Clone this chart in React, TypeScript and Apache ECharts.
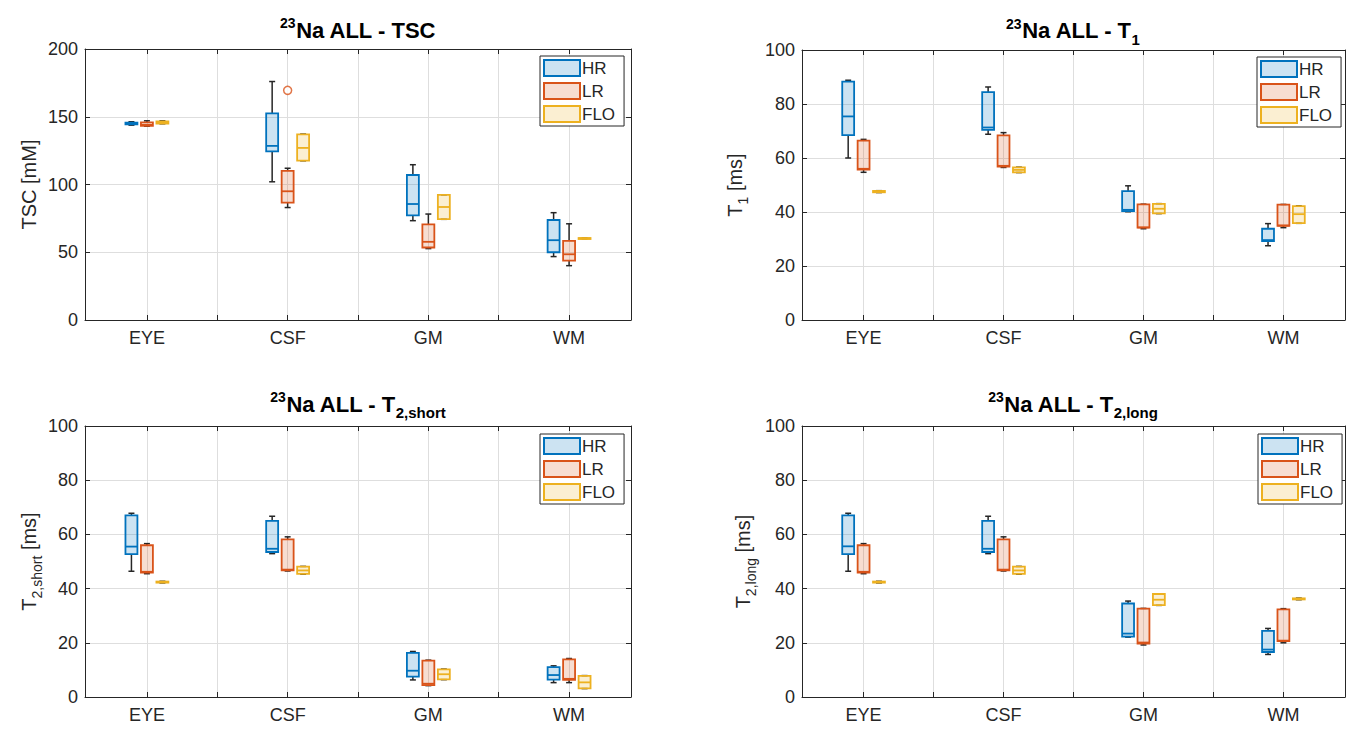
import React, { useEffect, useRef } from 'react';
import * as echarts from 'echarts';

// Regions on the x axis and acquisition groups
const categories = ['EYE', 'CSF', 'GM', 'WM'];
const groups = ['HR', 'LR', 'FLO'];

// Five-number summaries per region: [min, q1, median, q3, max]
const tscHR = [[143.8, 144.3, 144.6, 145.6, 146.3], [102, 124.5, 128.5, 152.5, 176], [73.3, 77.2, 85.6, 107, 114.6], [46.8, 50, 58.9, 73.8, 79.2]];
const tscLR = [[143, 143.3, 144, 145.8, 147], [83, 86.6, 95, 110, 112], [52.7, 53.5, 57.7, 70.5, 78.2], [40.1, 43.8, 48.5, 58.4, 71]];
const tscFLO = [[144.8, 145, 145.8, 146.6, 147], [117.5, 117.6, 127, 137, 137.2], [74.3, 74.4, 83.4, 92.3, 92.4], [60, 60.1, 60.3, 60.5, 60.6]];
const tscOutliersLR = [[2, 169.5]];

const t1HR = [[60, 68.5, 75.4, 88.3, 88.8], [68.8, 70.4, 71.3, 84.4, 86.3], [40.1, 40.3, 40.8, 47.7, 49.7], [27.5, 29.2, 29.6, 33.8, 35.7]];
const t1LR = [[54.7, 55.7, 56, 66.4, 66.9], [56.5, 56.8, 57.1, 68.4, 69.4], [33.8, 34.2, 34.3, 42.8, 42.9], [34.2, 34.9, 35, 42.7, 42.8]];
const t1FLO = [[47.2, 47.3, 47.6, 47.8, 47.9], [54.6, 54.7, 55.6, 56.5, 56.6], [39.4, 39.5, 41.2, 43, 43.1], [35.8, 35.9, 39.2, 42.2, 42.3]];

const t2sHR = [[46.4, 52.7, 55.5, 67, 67.8], [52.9, 53.5, 54.7, 65, 66.7], [6.3, 7.5, 9.7, 16.3, 16.8], [5.3, 6.4, 8.1, 11, 11.5]];
const t2sLR = [[45.5, 45.9, 46.2, 56, 56.6], [46.5, 46.7, 47, 58.2, 59.1], [4.2, 4.4, 4.9, 13.4, 13.6], [5.3, 6.3, 6.7, 13.9, 14.2]];
const t2sFLO = [[42.1, 42.2, 42.4, 42.6, 42.7], [45.3, 45.4, 46.7, 48.1, 48.2], [6.4, 6.5, 8.4, 10.2, 10.3], [3.1, 3.2, 5.4, 7.8, 7.9]];

const t2lHR = [[46.4, 52.7, 55.6, 67, 67.8], [52.9, 53.5, 54.7, 65, 66.7], [22.1, 22.3, 23.4, 34.5, 35.4], [15.7, 16.6, 17.5, 24.4, 25.3]];
const t2lLR = [[45.5, 45.9, 46.2, 56, 56.6], [46.5, 46.7, 47, 58.2, 59.1], [19.2, 19.7, 20.1, 32.6, 32.7], [20, 20.6, 20.8, 32.3, 32.6]];
const t2lFLO = [[42.1, 42.2, 42.4, 42.6, 42.7], [45.3, 45.4, 46.7, 48.1, 48.2], [33.8, 33.9, 35.9, 38, 38.1], [35.9, 36, 36.2, 36.4, 36.5]];

// Y-axis ranges and tick steps
const yMaxes = [200, 100, 100, 100];
const ySteps = [50, 20, 20, 20];
const xTickValues = [1, 1.5, 2, 2.5, 3, 3.5, 4];
const xLabelValues = [1, 2, 3, 4];

const FONT = '"Liberation Sans", Arial, Helvetica, sans-serif';
const INK = '#262626';
const EDGE = ['#0072BD', '#D95319', '#EDB120'];
const FILL = ['rgba(0,114,189,0.2)', 'rgba(217,83,25,0.2)', 'rgba(237,177,32,0.2)'];
const OFFSETS = [-0.11, 0, 0.11];
const BOX_WIDTH = 0.085;
const X_MIN = 0.56;
const X_MAX = 4.44;

const LAYOUT = [
  { left: 85, top: 49, width: 546, height: 271 },
  { left: 802, top: 50, width: 543, height: 270 },
  { left: 85, top: 426, width: 546, height: 271 },
  { left: 802, top: 426, width: 543, height: 271 },
];
const LEGEND_POS = [
  { left: 540, top: 56 },
  { left: 1257, top: 57 },
  { left: 540, top: 434 },
  { left: 1258, top: 434 },
];
const TITLE_POS = [
  { x: 358, y: 16 },
  { x: 1073, y: 16.5 },
  { x: 358, y: 390 },
  { x: 1073, y: 390 },
];
const NAME_GAPS = [42, 53, 34, 45];

const panels = [
  { title: '{sup|23}{t|Na ALL - TSC}', yName: '{m|TSC [mM]}', series: [tscHR, tscLR, tscFLO], outliers: [[], tscOutliersLR, []] },
  { title: '{sup|23}{t|Na ALL - T}{sub|1}', yName: '{m|T}{s|1}{m| [ms]}', series: [t1HR, t1LR, t1FLO], outliers: [[], [], []] },
  { title: '{sup|23}{t|Na ALL - T}{sub|2,short}', yName: '{m|T}{s|2,short}{m| [ms]}', series: [t2sHR, t2sLR, t2sFLO], outliers: [[], [], []] },
  { title: '{sup|23}{t|Na ALL - T}{sub|2,long}', yName: '{m|T}{s|2,long}{m| [ms]}', series: [t2lHR, t2lLR, t2lFLO], outliers: [[], [], []] },
];

const titleRich = {
  sup: { fontSize: 14, fontWeight: 'bold', lineHeight: 16, verticalAlign: 'top', fontFamily: FONT, fill: '#000' },
  t: { fontSize: 22, fontWeight: 'bold', lineHeight: 26, padding: [3, 0, 0, 0], verticalAlign: 'top', fontFamily: FONT, fill: '#000' },
  sub: { fontSize: 15, fontWeight: 'bold', lineHeight: 16, padding: [15, 0, 0, 0], verticalAlign: 'top', fontFamily: FONT, fill: '#000' },
};

const nameRich = {
  m: { fontSize: 20, lineHeight: 24, verticalAlign: 'top', fontFamily: FONT, color: INK },
  s: { fontSize: 14, lineHeight: 16, padding: [11, 0, 0, 0], verticalAlign: 'top', fontFamily: FONT, color: INK },
};

function boxRenderer(edge: string, fill: string) {
  return (_params: any, api: any) => {
    const x = api.value(0);
    const pMin = api.coord([x, api.value(1)]);
    const pQ1 = api.coord([x, api.value(2)]);
    const pMed = api.coord([x, api.value(3)]);
    const pQ3 = api.coord([x, api.value(4)]);
    const pMax = api.coord([x, api.value(5)]);
    const w = api.size([BOX_WIDTH, 0])[0];
    const cx = pMin[0];
    const cap = w * 0.25;
    const whisker = { stroke: INK, lineWidth: 1.5 };
    return {
      type: 'group',
      children: [
        { type: 'line', shape: { x1: cx, y1: pQ3[1], x2: cx, y2: pMax[1] }, style: whisker },
        { type: 'line', shape: { x1: cx, y1: pQ1[1], x2: cx, y2: pMin[1] }, style: whisker },
        { type: 'line', shape: { x1: cx - cap, y1: pMax[1], x2: cx + cap, y2: pMax[1] }, style: whisker },
        { type: 'line', shape: { x1: cx - cap, y1: pMin[1], x2: cx + cap, y2: pMin[1] }, style: whisker },
        {
          type: 'rect',
          shape: { x: cx - w / 2, y: pQ3[1], width: w, height: Math.max(pQ1[1] - pQ3[1], 1) },
          style: { fill: fill, stroke: edge, lineWidth: 1.8 },
        },
        { type: 'line', shape: { x1: cx - w / 2, y1: pMed[1], x2: cx + w / 2, y2: pMed[1] }, style: { stroke: edge, lineWidth: 1.8 } },
      ],
    };
  };
}

function buildOption() {
  const grid: any[] = [];
  const xAxis: any[] = [];
  const yAxis: any[] = [];
  const series: any[] = [];
  const legend: any[] = [];
  const graphic: any[] = [];

  panels.forEach((panel, p) => {
    grid.push({ ...LAYOUT[p], show: false });

    const xBase = {
      type: 'value',
      gridIndex: p,
      min: X_MIN,
      max: X_MAX,
      axisLine: { show: true, onZero: false, lineStyle: { color: INK, width: 1 } },
      axisTick: { show: true, inside: true, length: 5, customValues: xTickValues, lineStyle: { color: INK } },
    };
    xAxis.push({
      ...xBase,
      position: 'bottom',
      axisLabel: {
        customValues: xLabelValues,
        formatter: (v: number) => categories[Math.round(v) - 1] ?? '',
        fontSize: 18,
        fontFamily: FONT,
        color: INK,
        margin: 9,
      },
      splitLine: { show: true, lineStyle: { color: '#dedede', width: 1 } },
    });
    xAxis.push({ ...xBase, position: 'top', axisLabel: { show: false }, splitLine: { show: false } });

    const yBase = {
      type: 'value',
      gridIndex: p,
      min: 0,
      max: yMaxes[p],
      interval: ySteps[p],
      axisLine: { show: true, onZero: false, lineStyle: { color: INK, width: 1 } },
      axisTick: { show: true, inside: true, length: 5, lineStyle: { color: INK } },
    };
    yAxis.push({
      ...yBase,
      position: 'left',
      axisLabel: { fontSize: 18, fontFamily: FONT, color: INK, margin: 7 },
      splitLine: { show: true, lineStyle: { color: '#dedede', width: 1 } },
      name: panel.yName,
      nameLocation: 'middle',
      nameRotate: 90,
      nameGap: NAME_GAPS[p],
      nameTextStyle: { rich: nameRich },
    });
    yAxis.push({ ...yBase, position: 'right', axisLabel: { show: false }, splitLine: { show: false } });

    groups.forEach((g, gi) => {
      series.push({
        type: 'custom',
        name: g,
        xAxisIndex: 2 * p,
        yAxisIndex: 2 * p,
        dimensions: ['x', 'min', 'q1', 'median', 'q3', 'max'],
        encode: { x: 0, y: [1, 2, 3, 4, 5] },
        itemStyle: { color: FILL[gi], borderColor: EDGE[gi], borderWidth: 2 },
        renderItem: boxRenderer(EDGE[gi], FILL[gi]),
        data: panel.series[gi].map((s, i) => [i + 1 + OFFSETS[gi], ...s]),
        z: 3,
      });
      const outs = panel.outliers[gi];
      if (outs.length) {
        series.push({
          type: 'scatter',
          name: g + ' outlier',
          xAxisIndex: 2 * p,
          yAxisIndex: 2 * p,
          symbol: 'circle',
          symbolSize: 8,
          itemStyle: { color: '#fff', borderColor: EDGE[gi], borderWidth: 1.5 },
          data: outs.map(([c, v]) => [c + OFFSETS[gi], v]),
          z: 4,
        });
      }
    });

    legend.push({
      orient: 'vertical',
      left: LEGEND_POS[p].left,
      top: LEGEND_POS[p].top,
      itemWidth: 36,
      itemHeight: 16,
      itemGap: 5,
      padding: [3, 9, 3, 3],
      backgroundColor: '#fff',
      borderColor: INK,
      borderWidth: 1,
      borderRadius: 0,
      selectedMode: false,
      icon: 'rect',
      textStyle: { fontSize: 17, fontFamily: FONT, color: INK, padding: [0, 0, 0, -3] },
      data: groups.map((g, gi) => ({
        name: g,
        icon: 'rect',
        itemStyle: { color: FILL[gi], borderColor: EDGE[gi], borderWidth: 2 },
      })),
    });

    graphic.push({
      type: 'text',
      x: TITLE_POS[p].x,
      y: TITLE_POS[p].y,
      style: { text: panel.title, rich: titleRich, align: 'center', verticalAlign: 'top', fill: '#000' },
    });
  });

  return {
    animation: false,
    backgroundColor: '#fff',
    textStyle: { fontFamily: FONT },
    grid,
    xAxis,
    yAxis,
    series,
    legend,
    graphic,
  };
}

export default function App() {
  const ref = useRef<HTMLDivElement>(null);
  useEffect(() => {
    if (!ref.current) return;
    const chart = echarts.init(ref.current, null, { renderer: 'svg' });
    chart.setOption(buildOption() as any);
    return () => chart.dispose();
  }, []);
  return (
    <div
      ref={ref}
      style={{ position: 'fixed', left: 0, top: 0, width: 1356, height: 729, background: '#fff' }}
    />
  );
}
